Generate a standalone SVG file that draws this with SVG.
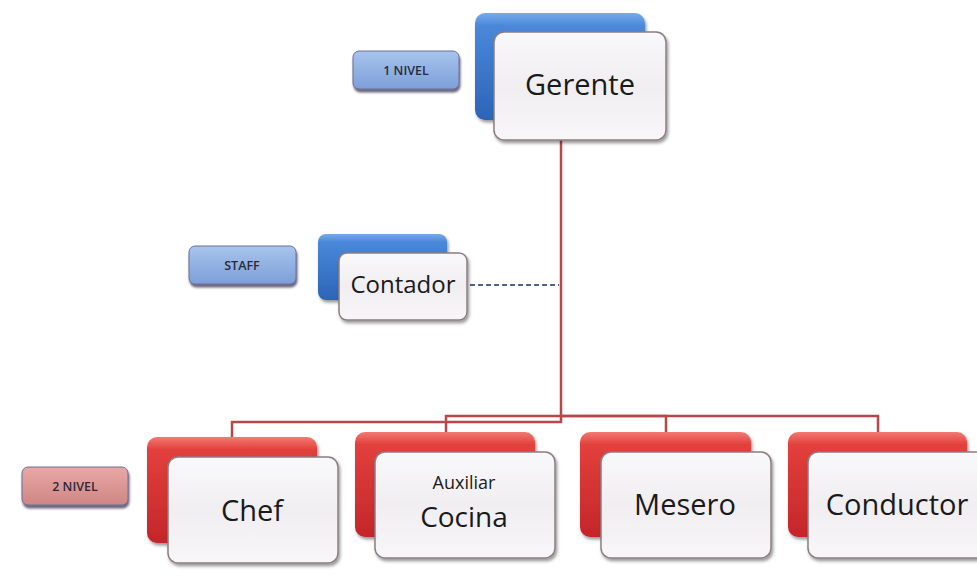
<svg xmlns="http://www.w3.org/2000/svg" width="977" height="582" viewBox="0 0 977 582">
  <defs>
    <linearGradient id="gBlue" x1="0" y1="0" x2="0" y2="1">
      <stop offset="0" stop-color="#78aaeb"/>
      <stop offset="0.12" stop-color="#4a88da"/>
      <stop offset="1" stop-color="#2c64b8"/>
    </linearGradient>
    <linearGradient id="gRed" x1="0" y1="0" x2="0" y2="1">
      <stop offset="0" stop-color="#f27a72"/>
      <stop offset="0.12" stop-color="#e2403c"/>
      <stop offset="1" stop-color="#c4262a"/>
    </linearGradient>
    <linearGradient id="gFront" x1="0" y1="0" x2="0" y2="1">
      <stop offset="0" stop-color="#f9f8fa"/>
      <stop offset="0.5" stop-color="#f0eef1"/>
      <stop offset="1" stop-color="#f8f6f8"/>
    </linearGradient>
    <linearGradient id="gLblBlue" x1="0" y1="0" x2="0" y2="1">
      <stop offset="0" stop-color="#a7c4ec"/>
      <stop offset="1" stop-color="#7d9fd9"/>
    </linearGradient>
    <linearGradient id="gLblRed" x1="0" y1="0" x2="0" y2="1">
      <stop offset="0" stop-color="#e8a8a6"/>
      <stop offset="1" stop-color="#cf8684"/>
    </linearGradient>
    <filter id="sh" x="-10%" y="-10%" width="130%" height="140%">
      <feDropShadow dx="1.5" dy="2.5" stdDeviation="1.8" flood-color="#000" flood-opacity="0.4"/>
    </filter>
    <filter id="shl" x="-10%" y="-10%" width="130%" height="150%">
      <feDropShadow dx="1" dy="3" stdDeviation="1" flood-color="#3a3050" flood-opacity="0.75"/>
    </filter>
  </defs>
  <style>
    .back { filter: url(#sh); }
    .blue { fill: url(#gBlue); }
    .red { fill: url(#gRed); }
    .front { fill: url(#gFront); stroke: #8c7e80; stroke-width: 1.5; filter: url(#sh); }
    .lbl { stroke: #6d6f9a; stroke-width: 1; filter: url(#shl); }
    .lt { font-family: "Open Sans", "Liberation Sans", sans-serif; font-size: 12.5px; font-weight: 600; fill: #2a2a3a; text-anchor: middle; }
    .nt { font-family: "Open Sans", "Liberation Sans", sans-serif; fill: #1a1a1a; text-anchor: middle; }
    .conn { fill: none; stroke: #b9474a; stroke-width: 2.5; }
    .dash { fill: none; stroke: #1f2f5a; stroke-width: 1.5; stroke-dasharray: 5 3; }
  </style>
  <rect width="977" height="582" fill="#ffffff"/>

  <g id="connectors">
    <path class="conn" d="M561 140 V422 H232 V438"/>
    <path class="conn" d="M561 416 H446 V432"/>
    <path class="conn" d="M561 416 H666 V432"/>
    <path class="conn" d="M561 416 H878 V432"/>
    <path class="dash" d="M470 285 H559"/>
  </g>

  <g id="label-1nivel">
    <rect class="lbl" x="353" y="51" width="106" height="38" rx="6" fill="url(#gLblBlue)"/>
    <text class="lt" x="406" y="75">1 NIVEL</text>
  </g>
  <g id="label-staff">
    <rect class="lbl" x="189" y="246" width="107" height="38" rx="6" fill="url(#gLblBlue)"/>
    <text class="lt" x="242" y="270">STAFF</text>
  </g>
  <g id="label-2nivel">
    <rect class="lbl" x="22" y="467" width="106" height="38" rx="6" fill="url(#gLblRed)"/>
    <text class="lt" x="75" y="491">2 NIVEL</text>
  </g>

  <g id="gerente">
    <rect class="back blue" x="475" y="13" width="170" height="107" rx="10"/>
    <rect class="front" x="494" y="32" width="172" height="108" rx="10"/>
    <text class="nt" x="580" y="95" font-size="29">Gerente</text>
  </g>

  <g id="contador">
    <rect class="back blue" x="318" y="234" width="129" height="66" rx="8"/>
    <rect class="front" x="339" y="253" width="128" height="67" rx="8"/>
    <text class="nt" x="403" y="293" font-size="24">Contador</text>
  </g>

  <g id="chef">
    <rect class="back red" x="147" y="437" width="170" height="106" rx="10"/>
    <rect class="front" x="168" y="457" width="170" height="106" rx="10"/>
    <text class="nt" x="252" y="521" font-size="29">Chef</text>
  </g>

  <g id="auxiliar-cocina">
    <rect class="back red" x="355" y="432" width="180" height="105" rx="10"/>
    <rect class="front" x="375" y="452" width="180" height="106" rx="10"/>
    <text class="nt" x="464" y="489" font-size="18">Auxiliar</text>
    <text class="nt" x="464" y="527" font-size="28">Cocina</text>
  </g>

  <g id="mesero">
    <rect class="back red" x="580" y="432" width="171" height="105" rx="10"/>
    <rect class="front" x="601" y="452" width="170" height="106" rx="10"/>
    <text class="nt" x="685" y="515" font-size="29">Mesero</text>
  </g>

  <g id="conductor">
    <rect class="back red" x="788" y="432" width="179" height="105" rx="10"/>
    <rect class="front" x="808" y="452" width="180" height="106" rx="10"/>
    <text class="nt" x="897" y="515" font-size="29">Conductor</text>
  </g>
</svg>
